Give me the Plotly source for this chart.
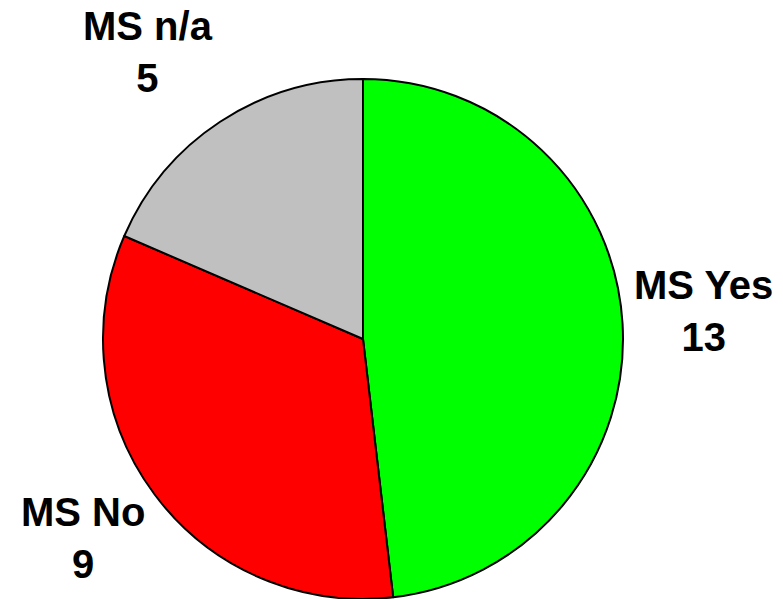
import math
import plotly.graph_objects as go

labels = ["MS Yes", "MS No", "MS n/a"]
values = [13, 9, 5]
colors = ["#00FF00", "#FF0000", "#C0C0C0"]

W, H = 783, 599
dom_x = [103 / W, 623 / W]
dom_y = [0, 520 / H]

fig = go.Figure(go.Pie(
    labels=labels,
    values=values,
    sort=False,
    direction="clockwise",
    rotation=0,
    marker=dict(colors=colors, line=dict(color="#000000", width=2)),
    textinfo="none",
    showlegend=False,
    domain=dict(x=dom_x, y=dom_y),
    hoverinfo="label+value",
))

# Place outside-end labels along each slice's mid-angle ray
cx = (dom_x[0] + dom_x[1]) / 2 * W
cy = (1 - (dom_y[0] + dom_y[1]) / 2) * H
radius = min((dom_x[1] - dom_x[0]) * W, (dom_y[1] - dom_y[0]) * H) / 2
r_lab = radius + 9
total = sum(values)
acc = 0
annotations = []
for lab, val in zip(labels, values):
    mid = (acc + val / 2) / total * 2 * math.pi
    acc += val
    s, c = math.sin(mid), math.cos(mid)
    px = cx + r_lab * s
    py = cy - r_lab * c
    xa = "left" if s > 0.3 else ("right" if s < -0.3 else "center")
    ya = "bottom" if c > 0.3 else ("top" if c < -0.3 else "middle")
    annotations.append(dict(
        x=px / W, y=1 - py / H, xref="paper", yref="paper",
        xanchor=xa, yanchor=ya, align="center", showarrow=False,
        yshift=12,
        text=f"{lab}<br>{val}",
        font=dict(family="Liberation Sans, Arial, sans-serif", size=40,
                  color="#000000", weight="bold"),
    ))

fig.update_layout(
    width=W, height=H,
    margin=dict(l=0, r=0, t=0, b=0),
    paper_bgcolor="white",
    plot_bgcolor="white",
    showlegend=False,
    annotations=annotations,
)

fig.write_html("out.html")
